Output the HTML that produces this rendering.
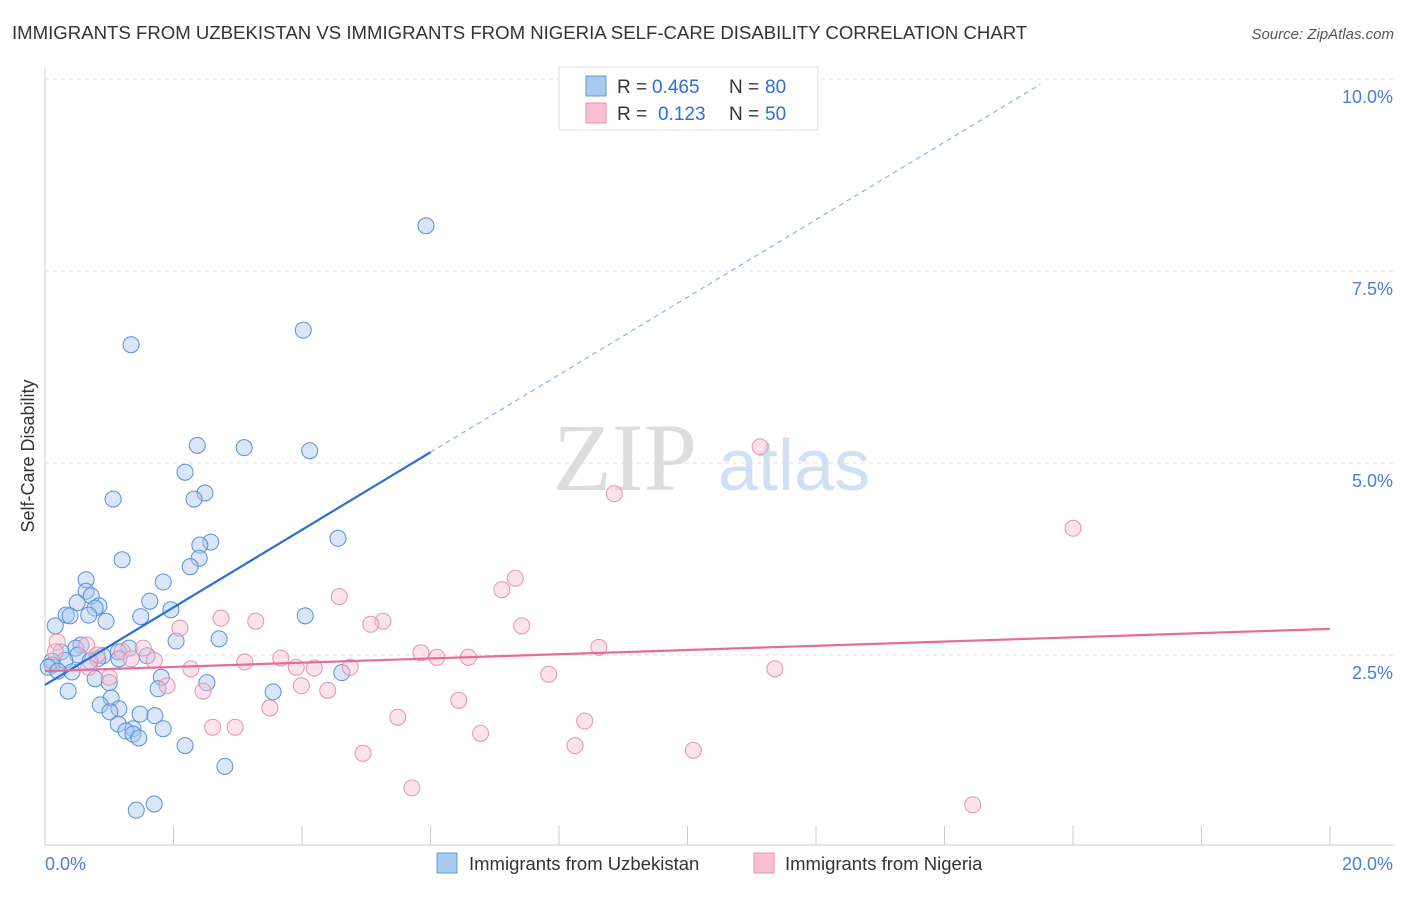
<!DOCTYPE html>
<html><head><meta charset="utf-8">
<style>
body{margin:0;background:#fff;font-family:"Liberation Sans",sans-serif;}
</style></head>
<body>
<svg id="chart" width="1406" height="892" xmlns="http://www.w3.org/2000/svg" font-family="Liberation Sans, sans-serif">
<text x="12" y="39" font-size="18.6" fill="#333">IMMIGRANTS FROM UZBEKISTAN VS IMMIGRANTS FROM NIGERIA SELF-CARE DISABILITY CORRELATION CHART</text>
<text x="1394" y="39" font-size="15" fill="#555" text-anchor="end" font-style="italic">Source: ZipAtlas.com</text>
<g>
<text x="553" y="490" font-size="96" fill="#ddd" style="font-family:'Liberation Serif',serif">ZIP</text>
<text x="718" y="490" font-size="72" fill="#cfe0f3">atlas</text>
</g>
<g id="grid"></g>
<g id="axes"></g>
<g id="pts"></g>
<g id="lines"></g>
<text transform="translate(34,456) rotate(-90)" font-size="18" fill="#333" text-anchor="middle">Self-Care Disability</text>
<g>
<rect x="559" y="67" width="259" height="63" fill="#fff" stroke="#ddd"/>
<rect x="586" y="76" width="20" height="20" fill="#a8c8f0" stroke="#6a9ad8"/>
<rect x="586" y="103" width="20" height="20" fill="#f8c0d2" stroke="#e891b0"/>
<text x="617" y="93" font-size="19" fill="#333">R =</text>
<text x="652" y="93" font-size="19" fill="#2a6fd6">0.465</text>
<text x="729" y="93" font-size="19" fill="#333">N =</text>
<text x="765" y="93" font-size="19" fill="#2a6fd6">80</text>
<text x="617" y="120" font-size="19" fill="#333">R =</text>
<text x="658" y="120" font-size="19" fill="#2a6fd6">0.123</text>
<text x="729" y="120" font-size="19" fill="#333">N =</text>
<text x="765" y="120" font-size="19" fill="#2a6fd6">50</text>
</g>
<g>
<rect x="437" y="853" width="20" height="20" fill="#a8c8f0" stroke="#6a9ad8"/>
<text x="469" y="870" font-size="18.5" fill="#333">Immigrants from Uzbekistan</text>
<rect x="754" y="853" width="20" height="20" fill="#f8c0d2" stroke="#e891b0"/>
<text x="785" y="870" font-size="18.5" fill="#333">Immigrants from Nigeria</text>
</g>
</svg>
<script>
const yTicks=[2.5,5.0,7.5,10.0];
const yTickLabels=["2.5%","5.0%","7.5%","10.0%"];
const xTickLabels=["0.0%","20.0%"];
const blueX=[5.93,4.02,1.34,2.37,3.10,4.12,2.18,2.49,2.32,1.06,4.56,2.58,2.41,2.40,1.20,2.26,1.84,0.64,0.64,0.72,1.63,0.50,0.84,0.78,1.96,0.33,0.39,0.68,4.05,1.49,0.95,0.16,2.71,2.04,0.56,0.48,1.31,0.25,1.14,1.59,0.90,0.51,0.82,1.15,0.31,0.11,0.70,0.11,0.05,0.42,0.20,4.62,1.81,0.78,2.52,1.00,1.76,0.36,3.55,1.03,0.86,1.15,1.01,1.48,1.71,1.14,1.37,1.26,1.84,1.37,1.46,2.18,2.80,1.70,1.42];
const blueY=[8.09,6.73,6.54,5.23,5.20,5.16,4.88,4.61,4.53,4.53,4.02,3.97,3.93,3.76,3.74,3.65,3.45,3.48,3.33,3.27,3.20,3.18,3.14,3.11,3.09,3.02,3.01,3.02,3.01,3.00,2.94,2.88,2.71,2.68,2.63,2.59,2.59,2.54,2.54,2.49,2.49,2.50,2.45,2.45,2.43,2.42,2.42,2.37,2.34,2.28,2.29,2.27,2.21,2.19,2.14,2.14,2.06,2.03,2.02,1.94,1.85,1.80,1.76,1.73,1.71,1.60,1.54,1.51,1.54,1.47,1.42,1.32,1.05,0.56,0.48];
const pinkX=[11.13,8.86,16.00,7.32,7.11,4.58,2.74,3.28,5.26,5.07,7.42,2.10,0.19,0.65,8.62,1.53,1.20,5.85,0.16,6.10,6.59,0.81,1.70,1.34,3.67,3.11,3.91,4.19,4.75,2.27,11.36,0.68,7.84,1.00,1.90,3.99,4.40,2.46,6.44,3.50,5.49,8.40,2.61,2.96,6.78,8.25,10.09,4.95,5.71,14.44];
const pinkY=[5.21,4.60,4.15,3.50,3.35,3.26,2.98,2.94,2.94,2.90,2.88,2.85,2.67,2.63,2.60,2.59,2.55,2.53,2.54,2.47,2.47,2.50,2.43,2.45,2.46,2.41,2.34,2.33,2.34,2.32,2.32,2.34,2.25,2.21,2.10,2.10,2.04,2.03,1.91,1.81,1.69,1.64,1.56,1.56,1.48,1.32,1.26,1.22,0.77,0.55];
const blueTrend=[[0,2.11],[6.0,5.14]];
const blueDash=[[6.0,5.14],[15.49,9.93]];
const pinkTrend=[[0,2.29],[20,2.84]];
const X=v=>45+v*64.25, Y=v=>847-v*76.8;
const NS="http://www.w3.org/2000/svg";
function mk(t,a,p){const e=document.createElementNS(NS,t);for(const k in a)e.setAttribute(k,a[k]);p.appendChild(e);return e;}
const grid=document.getElementById('grid'),axes=document.getElementById('axes');
yTicks.forEach((t,i)=>{
 const l=mk('line',{x1:45,x2:1394,y1:Y(t),y2:Y(t),stroke:'#ddd','stroke-dasharray':'4,4'},grid);
 
 
 const tx=mk('text',{x:1393,y:Y(t)+24,'font-size':18,fill:'#4a7fd4','text-anchor':'end'},axes);
 tx.textContent=yTickLabels[i];
 
 
});
const xa=mk('line',{x1:45,x2:1394,y1:845,y2:845,stroke:'#ccc'},axes);


const ya=mk('line',{x1:45,x2:45,y1:68,y2:845,stroke:'#ccc'},axes);


for(let i=1;i<=10;i++){const t=mk('line',{x1:X(i*2),x2:X(i*2),y1:826,y2:845,stroke:'#ccc'},axes);
 
 }
[[45,'start',0],[1393,'end',1]].forEach(([x,a,i])=>{const t=mk('text',{x:x,y:870,'font-size':18,fill:'#4a7fd4','text-anchor':a},axes);t.textContent=xTickLabels[i];
 
 });
const pts=document.getElementById('pts');
blueX.forEach((v,i)=>{const c=mk('circle',{cx:X(v),cy:Y(blueY[i]),r:8,fill:'rgba(168,200,240,0.45)',stroke:'#5b8fd6','stroke-width':1},pts);
 
 });
pinkX.forEach((v,i)=>{const c=mk('circle',{cx:X(v),cy:Y(pinkY[i]),r:8,fill:'rgba(248,192,210,0.45)',stroke:'#e891b0','stroke-width':1},pts);
 
 });
const lines=document.getElementById('lines');
function ln(d,col,w,dash,name){const l=mk('line',{x1:X(d[0][0]),y1:Y(d[0][1]),x2:X(d[1][0]),y2:Y(d[1][1]),stroke:col,'stroke-width':w},lines);if(dash)l.setAttribute('stroke-dasharray',dash);
 
 }
ln(blueTrend,'#2a6fd6',2.2,null,'uzbekistan-trend-line');
ln(blueDash,'#8fb2e6',1.2,'5,4','uzbekistan-trend-extension');
ln(pinkTrend,'#e86a9a',2.2,null,'nigeria-trend-line');
</script>
</body></html>
